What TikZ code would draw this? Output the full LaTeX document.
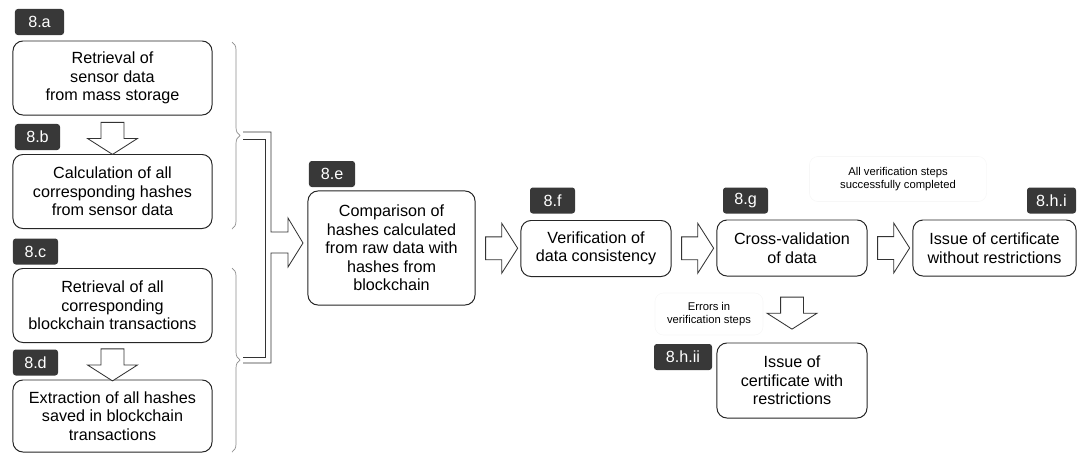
\documentclass[tikz,border=0pt]{standalone}
\usepackage{fontspec}
\setmainfont{Liberation Sans}
\usetikzlibrary{shapes.arrows,decorations.pathreplacing,calc}
\tikzset{stepbox/.style={draw=black!85, line width=0.7pt, rounded corners=0.25cm, fill=white, align=center, inner sep=0pt, font=\fontsize{11.5}{13.2}\selectfont}}
\tikzset{tag/.style={fill=black!78, text=white, rounded corners=2pt, inner sep=0pt, minimum height=0.65cm, font=\fontsize{11.5}{13}\selectfont}}
\tikzset{hollow/.style={single arrow, draw=black!80, fill=white, line width=0.6pt, inner xsep=0pt, inner ysep=0.275cm, single arrow head extend=0.3375cm, single arrow tip angle=115, minimum height=0.8cm}}
\tikzset{note/.style={draw=black!3, rounded corners=6pt, align=center, inner sep=0pt, font=\fontsize{8}{9}\selectfont}}
\tikzset{bracket/.style={draw=black!45, line width=0.5pt, decorate, decoration={brace, amplitude=0.2cm}}}

\begin{document}
\begin{tikzpicture}[x=0.025cm, y=-0.025cm]
\useasboundingbox (0,0) rectangle (1078,454);

%boxes
\node[stepbox, minimum width=4.975cm, minimum height=1.85cm] (a) at (112.5,78)    {Retrieval of\\sensor data\\from mass storage};
\node[stepbox, minimum width=4.975cm, minimum height=1.85cm] (b) at (112.5,191.5) {Calculation of all\\corresponding hashes\\from sensor data};
\node[stepbox, minimum width=4.975cm, minimum height=1.85cm] (c) at (112.5,305.5) {Retrieval of all\\corresponding\\blockchain transactions};
\node[stepbox, minimum width=4.975cm, minimum height=1.8cm]  (d) at (112.5,416)   {Extraction of all hashes\\saved in blockchain\\transactions};
\node[stepbox, minimum width=4.175cm, minimum height=2.85cm] (e) at (391.5,248)   {Comparison of\\hashes calculated\\from raw data with\\hashes from\\blockchain};
\node[stepbox, minimum width=3.75cm,  minimum height=1.4cm]  (f) at (596,248.5)   {Verification of\\data consistency};
\node[stepbox, minimum width=3.75cm,  minimum height=1.4cm]  (g) at (792,248)     {Cross-validation\\of data};
\node[stepbox, minimum width=4.075cm, minimum height=1.4cm]  (hi) at (994.5,248)  {Issue of certificate\\without restrictions};
\node[stepbox, minimum width=3.75cm,  minimum height=1.875cm] (hii) at (792,380.5) {Issue of\\certificate with\\restrictions};

%tags
\node[tag, minimum width=1.225cm] (ta) at (39.5,22)    {8.a};
\node[tag, minimum width=1.125cm] (tb) at (37.5,137)   {8.b};
\node[tag, minimum width=1.125cm] (tc) at (35.5,251.5) {8.c};
\node[tag, minimum width=1.125cm] (td) at (35.5,362.5) {8.d};
\node[tag, minimum width=1.15cm]  (te) at (332,174)    {8.e};
\node[tag, minimum width=1.125cm] (tf) at (552.5,200.5) {8.f};
\node[tag, minimum width=1.125cm] (tg) at (745.5,200.5) {8.g};
\node[tag, minimum width=1.225cm] (thi) at (1051.5,200.5) {8.h.i};
\node[tag, minimum width=1.45cm]  (thii) at (683,357)  {8.h.ii};

%block arrows
\node[hollow, rotate=-90] (ab) at ($(a.south)!.5!(b.north)$) {};
\node[hollow, rotate=-90] (cd) at ($(c.south)!.5!(d.north)$) {};
\node[hollow] (ef)  at ($(e.east)!.5!(f.west)$) {};
\node[hollow] (fg)  at ($(f.east)!.5!(g.west)$) {};
\node[hollow] (ghi) at ($(g.east)!.5!(hi.west)$) {};
\node[hollow, rotate=-90] (ghii) at ($(g.south)!.5!(hii.north)$) {};

%brackets and merging arrow
\draw[bracket] (232,42) -- (232,229);
\draw[bracket] (232,268) -- (232,452);
\coordinate (bt1) at (240,135.5);
\coordinate (bt2) at (240,360);
\draw[draw=black!80, line width=0.6pt] ($(bt1)+(3,-3.5)$) -- ++(28,0) -- ++(0,100) -- ++(17,0) -- ++(0,-14)
      -- ++(15,25) -- ++(-15,24) -- ++(0,-14) -- ++(-17,0) |- ($(bt2)+(3,3)$);
\draw[draw=black!80, line width=0.6pt] ($(bt1)+(3,3.5)$) -- ++(22,0) |- ($(bt2)+(3,-3)$);

%labels
\node[note, minimum width=4.425cm, minimum height=1.125cm] (ok)  at (898,179) {All verification steps\\successfully completed};
\node[note, minimum width=2.7cm,   minimum height=1.05cm]  (err) at (709,314) {Errors in\\verification steps};
\end{tikzpicture}
\end{document}
